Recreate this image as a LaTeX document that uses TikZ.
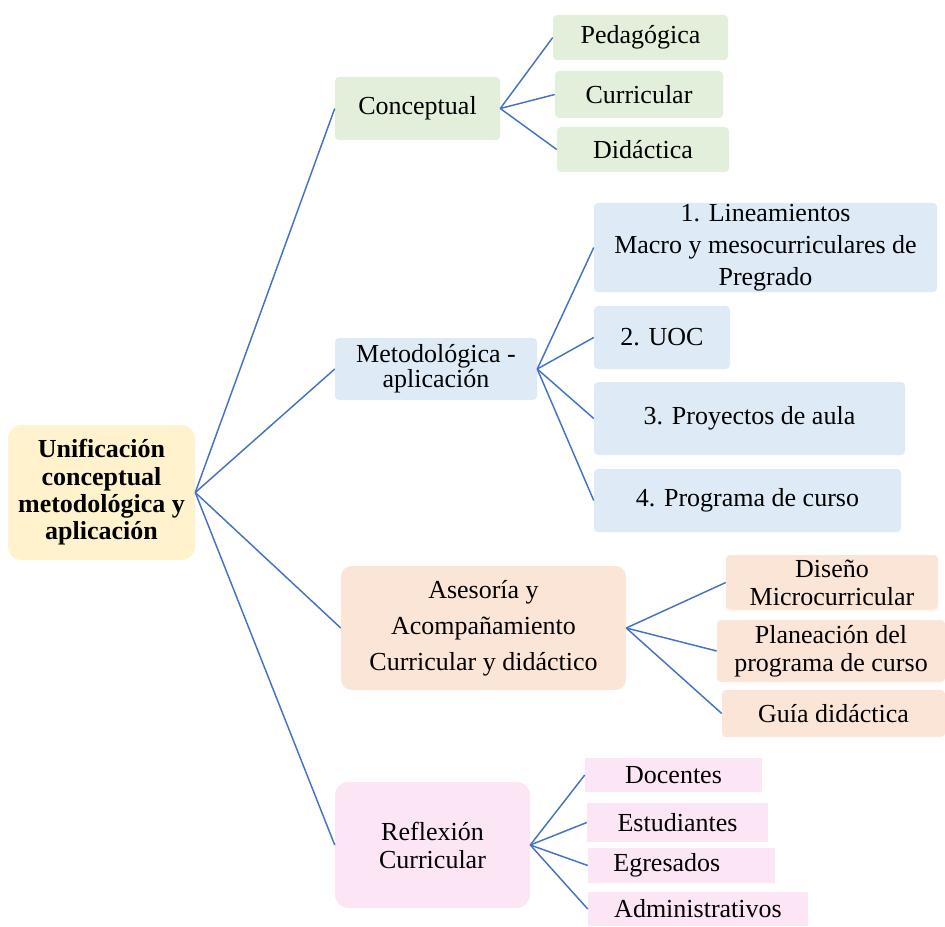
\documentclass[tikz,border=0pt]{standalone}
\usepackage{fontspec}
\setmainfont{Liberation Serif}
\definecolor{cyellow}{HTML}{FFF2CC}
\definecolor{cgreen}{HTML}{E2EFDA}
\definecolor{cblue}{HTML}{DEEBF7}
\definecolor{cpeach}{HTML}{FBE5D6}
\definecolor{cpink}{HTML}{FCE6F6}
\definecolor{cline}{HTML}{4472C4}
\begin{document}
\begin{tikzpicture}[x=0.75pt,y=-0.75pt,
  every node/.style={inner sep=0pt, align=center, font=\fontsize{19.5}{21}\selectfont},
  box/.style={rounded corners=3pt},
  wh/.style 2 args={minimum width=#1*0.75pt, minimum height=#2*0.75pt},
  link/.style={draw=cline, line width=1.1pt}]
\useasboundingbox (0,0) rectangle (945,927);
%root
\node [box, rounded corners=10pt, fill=cyellow, wh={187}{135}, font=\fontsize{19.5}{20.5}\selectfont\bfseries] (root) at (101.5,492.5) {Unificación\\conceptual\\metodológica y\\aplicación};
%Conceptual
\node [box, fill=cgreen, wh={165}{63}] (conc) at (417.5,108.5) {Conceptual};
\node [box, fill=cgreen, wh={175}{45}] (ped) at (640.5,37.5) {Pedagógica};
\node [box, fill=cgreen, wh={168}{47}] (cur) at (639,94.5) {Curricular};
\node [box, fill=cgreen, wh={172}{45}] (did) at (643,149.5) {Didáctica};
%Metodologica
\node [box, fill=cblue, wh={202}{62}, font=\fontsize{19.5}{19}\selectfont] (meto) at (436,369) {Metodológica -\\aplicación};
\node [box, fill=cblue, wh={343}{89}, font=\fontsize{19.5}{24}\selectfont] (lin) at (765.5,247.5) {1. Lineamientos\\Macro y mesocurriculares de\\Pregrado};
\node [box, fill=cblue, wh={136}{63}] (uoc) at (662,337.5) {2. UOC};
\node [box, fill=cblue, wh={311}{73}] (pro) at (749.5,418.5) {3. Proyectos de aula};
\node [box, fill=cblue, wh={307}{63}] (prg) at (747.5,500.5) {4. Programa de curso};
%Asesoria
\node [box, rounded corners=8pt, fill=cpeach, wh={285}{124}, font=\fontsize{19.5}{27}\selectfont] (ases) at (483.5,628) {Asesoría y\\Acompañamiento\\Curricular y didáctico};
\node [box, fill=cpeach, wh={212}{55}] (dis) at (832,582.5) {Diseño\\Microcurricular};
\node [box, fill=cpeach, wh={228}{62}] (pla) at (831,651) {Planeación del\\programa de curso};
\node [box, fill=cpeach, wh={223}{47}] (gui) at (833.5,713.5) {Guía didáctica};
%Reflexion
\node [box, rounded corners=10pt, fill=cpink, wh={195}{126}] (refl) at (432.5,845) {Reflexión\\Curricular};
\node [fill=cpink, wh={177}{34}] (doc) at (673.5,775) {Docentes};
\node [fill=cpink, wh={181}{39}] (est) at (677.5,822.5) {Estudiantes};
\node [fill=cpink, wh={187}{35}] (egr) at (681.5,865.5) {Egresados\hspace*{22pt}};
\node [fill=cpink, wh={220}{34}] (adm) at (698,909) {Administrativos};
%links
\draw [link] (root.east) -- (conc.west);
\draw [link] (root.east) -- (meto.west);
\draw [link] (root.east) -- (ases.west);
\draw [link] (root.east) -- (refl.west);
\draw [link] (conc.east) -- (ped.west);
\draw [link] (conc.east) -- (cur.west);
\draw [link] (conc.east) -- (did.west);
\draw [link] (meto.east) -- (lin.west);
\draw [link] (meto.east) -- (uoc.west);
\draw [link] (meto.east) -- (pro.west);
\draw [link] (meto.east) -- (prg.west);
\draw [link] (ases.east) -- (dis.west);
\draw [link] (ases.east) -- (pla.west);
\draw [link] (ases.east) -- (gui.west);
\draw [link] (refl.east) -- (doc.west);
\draw [link] (refl.east) -- (est.west);
\draw [link] (refl.east) -- (egr.west);
\draw [link] (refl.east) -- (adm.west);
\end{tikzpicture}
\end{document}
